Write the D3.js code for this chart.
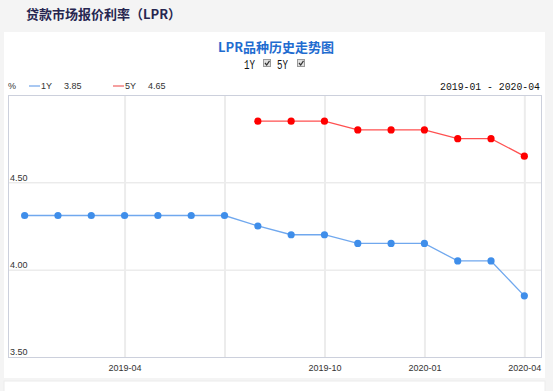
<!DOCTYPE html>
<html><head><meta charset="utf-8">
<script src="https://cdn.jsdelivr.net/npm/d3@7"></script>
<style>
html,body{margin:0;padding:0;background:#f4f4f4;}
svg{display:block;}
</style></head>
<body>
<svg id="c" width="553" height="391"></svg>
<script>
const months = ["2019-01","2019-02","2019-03","2019-04","2019-05","2019-06","2019-07","2019-08","2019-09","2019-10","2019-11","2019-12","2020-01","2020-02","2020-03","2020-04"];
const rate1Y = [4.31,4.31,4.31,4.31,4.31,4.31,4.31,4.25,4.20,4.20,4.15,4.15,4.15,4.05,4.05,3.85];
const rate5Y = [null,null,null,null,null,null,null,4.85,4.85,4.85,4.80,4.80,4.80,4.75,4.75,4.65];
const gridMonths = ["2019-04","2019-07","2019-10","2020-01","2020-04"];
const labelMonths = ["2019-04","2019-10","2020-01","2020-04"];
const yTicks = [3.5,4.0,4.5];
const seriesNames = ["1Y","5Y"];
const latest = ["3.85","4.65"];
const pageTitle = "贷款市场报价利率（LPR）";
const chartTitle = "LPR品种历史走势图";
const rangeText = "2019-01 - 2020-04";

const svg = d3.select("#c");
const L=8,R=541,T=95,B=357;
const x = d3.scalePoint().domain(months).range([L,R]).padding(0.5);
const y = d3.scaleLinear().domain([3.5,5.0]).range([B,T]);

// page title
svg.append("text").attr("x",26).attr("y",19).text(pageTitle)
  .attr("font-family","'Noto Sans CJK SC'").attr("font-weight","bold").attr("font-size",13).attr("fill","#262650");
// panel
svg.append("rect").attr("x",4).attr("y",32).attr("width",541).attr("height",346).attr("fill","#fff");
svg.append("rect").attr("x",4).attr("y",381).attr("width",541).attr("height",20).attr("fill","#fff").attr("stroke","#ececec");

svg.append("text").attr("x",276).attr("y",52).attr("text-anchor","middle").text(chartTitle)
  .attr("font-family","'Noto Sans CJK SC'").attr("font-weight","bold").attr("font-size",13).attr("fill","#1f6cd0");

// checkbox legend
const cbx = [{t:"1Y",x:244,cb:263},{t:"5Y",x:277,cb:297}];
cbx.forEach(d=>{
  svg.append("text").attr("x",d.x).attr("y",69).text(d.t)
    .attr("font-family","'Liberation Mono'").attr("font-size",12).attr("fill","#111")
    .attr("textLength",11).attr("lengthAdjust","spacingAndGlyphs");
  svg.append("rect").attr("x",d.cb+0.5).attr("y",59.5).attr("width",7).attr("height",7).attr("fill","#e0e0e0").attr("stroke","#999");
  svg.append("path").attr("d",`M${d.cb+2},${63} L${d.cb+3.7},${65} L${d.cb+6.5},${60.8}`).attr("fill","none").attr("stroke","#333").attr("stroke-width",1.2);
});

// value legend
const lf = "'Liberation Sans', Arial, sans-serif";
svg.append("text").attr("x",8).attr("y",89).text("%").attr("font-family",lf).attr("font-size",9).attr("fill","#333");
const lg = [{x:29,c:"#a9c8f2"},{x:113,c:"#f5a0a0"}];
lg.forEach((d,i)=>{
  svg.append("line").attr("x1",d.x).attr("x2",d.x+11).attr("y1",86).attr("y2",86).attr("stroke",d.c).attr("stroke-width",2);
  svg.append("text").attr("x",d.x+12).attr("y",89).text(seriesNames[i]).attr("font-family",lf).attr("font-size",9).attr("fill","#333");
  svg.append("text").attr("x",d.x+35).attr("y",89).text(latest[i]).attr("font-family",lf).attr("font-size",9).attr("fill","#333");
});
svg.append("text").attr("x",540).attr("y",90).attr("text-anchor","end").text(rangeText)
  .attr("font-family","'Liberation Mono'").attr("font-size",11).attr("fill","#111")
  .attr("textLength",100).attr("lengthAdjust","spacingAndGlyphs");

// grids
const gy = svg.append("g").attr("transform",`translate(${L},0)`)
  .call(d3.axisRight(y).tickValues(yTicks).tickSize(R-L).tickFormat(""));
gy.select(".domain").remove();
gy.selectAll("line").attr("stroke","#e2e2e2");
const gx = svg.append("g").attr("transform",`translate(0,${T})`)
  .call(d3.axisBottom(x).tickValues(gridMonths).tickSize(B-T).tickFormat(""));
gx.select(".domain").remove();
gx.selectAll("line").attr("stroke","#ececec").attr("stroke-width",2);

// frame
svg.append("rect").attr("x",L+0.5).attr("y",T+0.5).attr("width",R-L).attr("height",B-T)
  .attr("fill","none").attr("stroke","#ccd0dc");

// y labels
const ya = svg.append("g").attr("transform",`translate(${L+2},0)`)
  .call(d3.axisRight(y).tickValues(yTicks).tickSize(0).tickPadding(0).tickFormat(d3.format(".2f")));
ya.select(".domain").remove();
ya.selectAll("text").attr("dy","-0.25em").attr("font-family",lf).attr("font-size",9).attr("fill","#333");

// x labels
const xa = svg.append("g").attr("transform",`translate(0,${B})`)
  .call(d3.axisBottom(x).tickValues(labelMonths).tickSize(0).tickPadding(8));
xa.select(".domain").remove();
xa.selectAll("text").attr("font-family",lf).attr("font-size",9).attr("fill","#333");

// series
const series = [
  {v:rate1Y,line:"#70a8ee",dot:"#3f8eea"},
  {v:rate5Y,line:"#ff5050",dot:"#ff0000"}
];
series.forEach(s=>{
  const pts = months.map((m,i)=>({m,v:s.v[i]})).filter(d=>d.v!=null);
  svg.append("path").datum(pts)
    .attr("d",d3.line().x(d=>x(d.m)).y(d=>y(d.v)))
    .attr("fill","none").attr("stroke",s.line).attr("stroke-width",1.3);
  svg.append("g").selectAll("circle").data(pts).join("circle")
    .attr("cx",d=>x(d.m)).attr("cy",d=>y(d.v)).attr("r",3.6).attr("fill",s.dot);
});
</script>
</body></html>
